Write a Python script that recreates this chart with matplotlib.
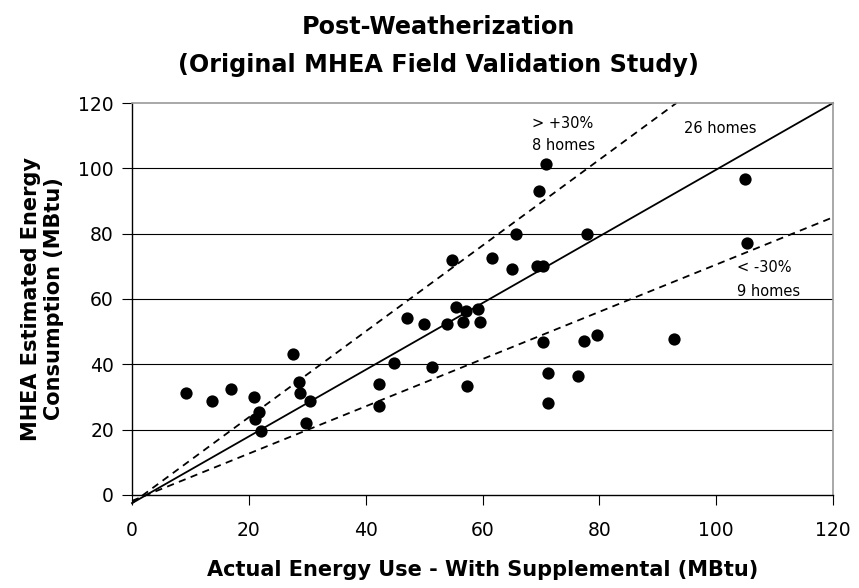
import matplotlib
matplotlib.use("Agg")
import matplotlib.pyplot as plt

plt.rcParams['font.family'] = ['DejaVu Sans']

# Data: actual (x) vs MHEA estimated (y), MBtu
actual = [9.2, 13.7, 16.9, 20.8, 21.7, 21.1, 22.1, 27.5, 28.5, 28.8, 30.5, 29.8,
          42.3, 42.3, 44.8, 47.1, 50.0, 51.3, 53.9, 54.8, 55.5, 57.1, 56.7, 59.3,
          59.6, 57.4, 61.6, 65.1, 65.8, 69.6, 70.9, 69.4, 70.4, 77.9, 70.3, 71.2,
          71.2, 76.3, 77.3, 79.6, 92.8, 104.9, 105.2]
estimated = [31.1, 28.9, 32.3, 30.1, 25.4, 23.2, 19.7, 43.3, 34.6, 31.1, 28.9, 22.0,
             34.1, 27.2, 40.4, 54.1, 52.3, 39.3, 52.3, 71.9, 57.5, 56.4, 53.1, 57.0,
             53.1, 33.5, 72.4, 69.1, 79.9, 93.1, 101.2, 70.2, 70.2, 79.9, 46.7, 37.4,
             28.3, 36.3, 47.2, 48.9, 47.9, 96.6, 77.1]

# Reference lines (endpoints)
equal_x = [0, 120]
equal_y = [-2.5, 120]
plus30_x = [0, 93.2]
plus30_y = [-2.5, 120]
minus30_x = [0, 120]
minus30_y = [-1.8, 85.0]

xticks = [0, 20, 40, 60, 80, 100, 120]
yticks = [0, 20, 40, 60, 80, 100, 120]

fig = plt.figure(figsize=(8.59, 5.88), dpi=100)
ax = fig.add_axes([0.1537, 0.1582, 0.8160, 0.6666])

ax.set_xlim(0, 120)
ax.set_ylim(0, 120)
ax.set_xticks(xticks)
ax.set_yticks(yticks)

for yv in yticks[1:-1]:
    ax.axhline(yv, color='black', lw=0.8, zorder=1)

ax.plot(equal_x, equal_y, color='black', lw=1.3, clip_on=False, zorder=2)
ax.plot(plus30_x, plus30_y, color='black', lw=1.3, ls=(0, (4, 3)), clip_on=False, zorder=2)
ax.plot(minus30_x, minus30_y, color='black', lw=1.3, ls=(0, (4, 3)), clip_on=False, zorder=2)

ax.scatter(actual, estimated, s=78, color='black', zorder=3, linewidths=0)

for side in ['top', 'right']:
    ax.spines[side].set_color('#999999')
    ax.spines[side].set_linewidth(1.2)
for side in ['left', 'bottom']:
    ax.spines[side].set_color('black')
    ax.spines[side].set_linewidth(1.0)

ax.tick_params(axis='both', direction='out', length=7, width=0.8, labelsize=13.5, colors='black')
ax.tick_params(axis='x', pad=12)
ax.tick_params(axis='y', pad=6)

ann_kw = dict(fontsize=10.5, ha='left', va='center')
ax.text(68.5, 113.6, '> +30%', **ann_kw)
ax.text(68.5, 107.0, '8 homes', **ann_kw)
ax.text(94.5, 112.3, '26 homes', **ann_kw)
ax.text(103.6, 69.5, '< -30%', **ann_kw)
ax.text(103.6, 62.4, '9 homes', **ann_kw)

fig.text(0.51, 0.954, 'Post-Weatherization', ha='center', va='center',
         fontsize=17.2, fontweight='bold')
fig.text(0.51, 0.889, '(Original MHEA Field Validation Study)', ha='center', va='center',
         fontsize=17.2, fontweight='bold')

ax.set_xlabel('Actual Energy Use - With Supplemental (MBtu)', fontsize=15, fontweight='bold',
              labelpad=14)
ax.set_ylabel('MHEA Estimated Energy\nConsumption (MBtu)', fontsize=15, fontweight='bold',
              labelpad=10)

fig.savefig('out.png', dpi=100)
